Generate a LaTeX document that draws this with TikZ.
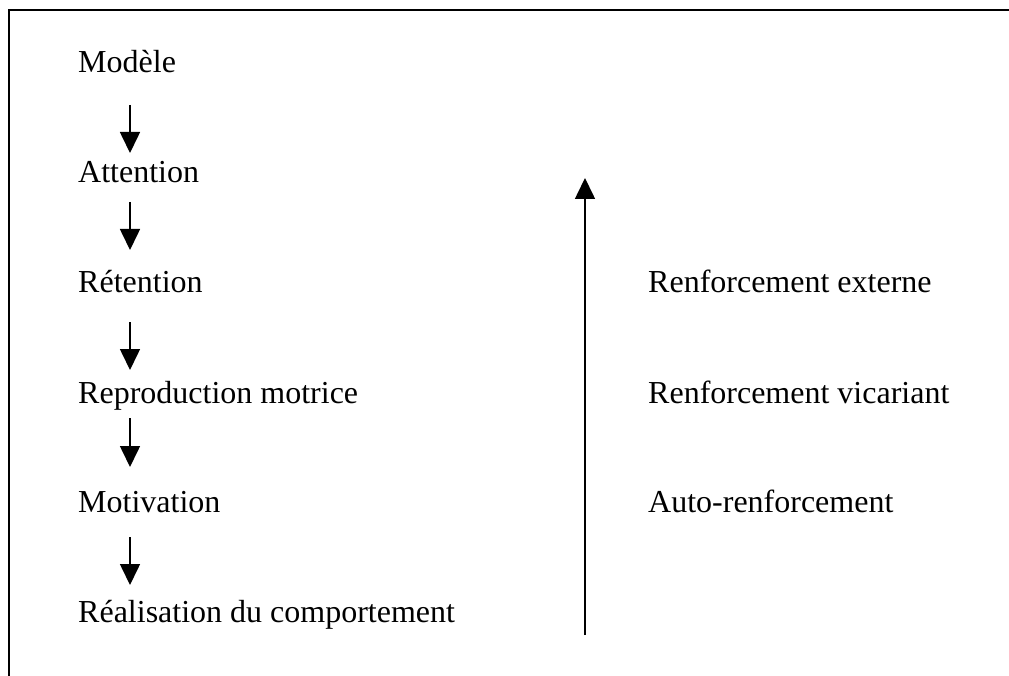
\documentclass[tikz,border=0pt]{standalone}
\usepackage{fontspec}
\setmainfont{Liberation Serif}
\usetikzlibrary{arrows.meta}
\begin{document}
\begin{tikzpicture}[x=1pt,y=-1pt,
  lbl/.style={anchor=base west,inner sep=0pt,font=\fontsize{32}{38}\selectfont},
  arr/.style={line width=1.6pt,-{Triangle[width=20pt,length=21pt]}}]
\useasboundingbox (0,0) rectangle (1009,676);
\draw[line width=2pt] (9,676) -- (9,10) -- (1009,10);
\node[lbl] (m) at (78,73) {Modèle};
\node[lbl] (a) at (78,183) {Attention};
\node[lbl] (r) at (78,293) {Rétention};
\node[lbl] (rp) at (78,403) {Reproduction motrice};
\node[lbl] (mo) at (78,512) {Motivation};
\node[lbl] (re) at (78,622) {Réalisation du comportement};
\node[lbl] (e1) at (648,293) {Renforcement externe};
\node[lbl] (e2) at (648,403) {Renforcement vicariant};
\node[lbl] (e3) at (648,512) {Auto-renforcement};
\coordinate (s1) at (130,105); \coordinate (t1) at (130,153);
\coordinate (s2) at (130,202); \coordinate (t2) at (130,250);
\coordinate (s3) at (130,322); \coordinate (t3) at (130,370);
\coordinate (s4) at (130,418); \coordinate (t4) at (130,467);
\coordinate (s5) at (130,537); \coordinate (t5) at (130,585);
\coordinate (vs) at (585,635); \coordinate (vt) at (585,178);
\draw[arr] (s1) -- (t1);
\draw[arr] (s2) -- (t2);
\draw[arr] (s3) -- (t3);
\draw[arr] (s4) -- (t4);
\draw[arr] (s5) -- (t5);
\draw[arr] (vs) -- (vt);
\end{tikzpicture}
\end{document}
